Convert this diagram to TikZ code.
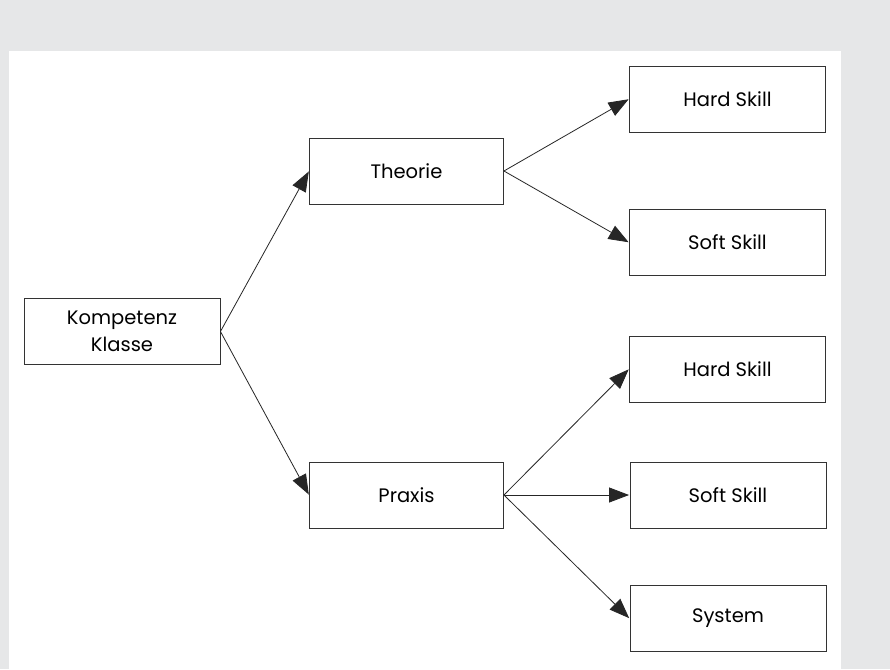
\documentclass[tikz,border=0pt]{standalone}
\usepackage{fontspec}
\setmainfont{Poppins}
\usetikzlibrary{arrows.meta}
\definecolor{hintergrund}{RGB}{230,231,232}

\begin{document}
\begin{tikzpicture}[x=1pt, y=-1pt,
    kasten/.style={draw=black!80, line width=0.9pt, fill=white,
        minimum width=196pt, minimum height=66pt, inner sep=0pt,
        font=\fontsize{19.5}{27}\selectfont, align=center},
    pfeil/.style={draw=black!85, line width=0.8pt,
        -{Triangle[length=20pt, width=15pt]}, shorten >=0.5pt}]
    % Hintergrund und weisse Flaeche
    \fill[hintergrund] (0,0) rectangle (890,669);
    \fill[white] (9,51) rectangle (841,669);
    \useasboundingbox (0,0) rectangle (890,669);

    % Wurzel
    \node[kasten] (kompetenz) at (122,331.5) {Kompetenz\\Klasse};

    % Zweite Ebene
    \node[kasten, minimum width=194pt] (theorie) at (406.5,171) {Theorie};
    \node[kasten, minimum width=194pt] (praxis) at (406.5,495) {Praxis};

    % Dritte Ebene
    \node[kasten] (hardT) at (727.5,99) {Hard Skill};
    \node[kasten] (softT) at (727.5,242.5) {Soft Skill};
    \node[kasten] (hardP) at (727.5,369) {Hard Skill};
    \node[kasten] (softP) at (728,495) {Soft Skill};
    \node[kasten] (system) at (728,618.5) {System};

    % Verbindungen
    \draw[pfeil] (kompetenz.east) -- (theorie.west);
    \draw[pfeil] (kompetenz.east) -- (praxis.west);
    \draw[pfeil] (theorie.east) -- (hardT.west);
    \draw[pfeil] (theorie.east) -- (softT.west);
    \draw[pfeil] (praxis.east) -- (hardP.west);
    \draw[pfeil] (praxis.east) -- (softP.west);
    \draw[pfeil] (praxis.east) -- (system.west);
\end{tikzpicture}
\end{document}
